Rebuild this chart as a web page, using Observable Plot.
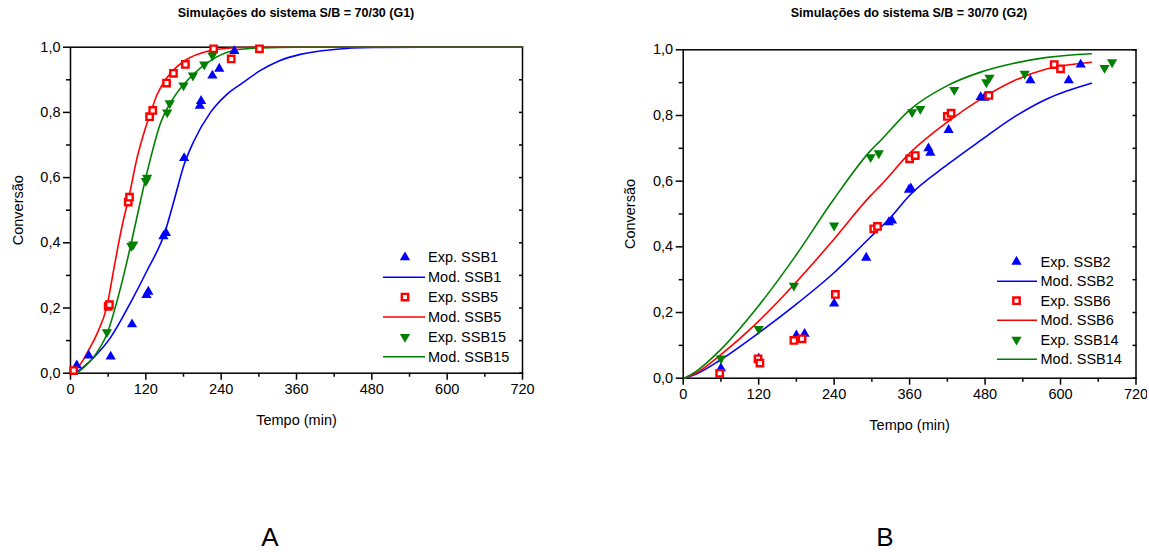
<!DOCTYPE html>
<html>
<head>
<meta charset="utf-8">
<script src="https://cdn.jsdelivr.net/npm/d3@7"></script>
<script src="https://cdn.jsdelivr.net/npm/@observablehq/plot@0.6"></script>
<style>
  body { margin: 0; background: #fff; }
  #page { position: relative; width: 1149px; height: 552px; overflow: hidden; background: #fff; }
  .panel { position: absolute; top: 0; }
  .panel svg { max-width: none !important; }
  #overlay { position: absolute; left: 0; top: 0; pointer-events: none; }
</style>
</head>
<body>
<div id="page">
  <div class="panel" id="g1" style="left:0px"></div>
  <div class="panel" id="g2" style="left:612px"></div>
  <svg id="overlay" width="1149" height="552"></svg>
</div>
<script>
// ---- axis ticks ----
const timeTicks = [0, 120, 240, 360, 480, 600, 720];
const timeMinor = [60, 180, 300, 420, 540, 660];
const convTicks = [0, 0.2, 0.4, 0.6, 0.8, 1.0];
const convMinor = [0.1, 0.3, 0.5, 0.7, 0.9];

// ---- G1: S/B = 70/30 — experimental points [tempo, conversão] ----
const expSSB1 = [[10,0.024],[29,0.054],[64,0.051],[98,0.15],[121,0.24],[124,0.25],[148,0.42],[152,0.43],
  [181,0.66],[206,0.82],[208,0.835],[226,0.913],[237,0.934],[261,0.988]];
const expSSB5 = [[5,0.008],[60,0.205],[62,0.21],[92,0.525],[94,0.54],[126,0.787],[131,0.806],[153,0.89],
  [164,0.92],[183,0.947],[228,0.995],[256,0.964],[301,0.995]];
const expSSB15 = [[58,0.126],[97,0.39],[100,0.395],[120,0.59],[122,0.60],[154,0.80],[158,0.828],[180,0.883],
  [195,0.913],[213,0.947],[226,0.975]];

// ---- G1: model curves ----
const modSSB1 = [[8,0],[30,0.035],[64,0.11],[98,0.225],[122,0.315],[150,0.43],[165,0.53],[181,0.64],[196,0.71],
  [223,0.80],[250,0.857],[276,0.893],[302,0.928],[332,0.958],[366,0.978],[420,0.993],[480,0.999],[560,1.0],[720,1.0]];
const modSSB5 = [[5,0],[20,0.04],[30,0.075],[42,0.12],[58,0.205],[70,0.33],[82,0.45],[93,0.54],[106,0.66],
  [119,0.75],[126,0.79],[138,0.855],[153,0.905],[164,0.93],[183,0.96],[223,0.99],[250,0.997],[300,1.0],[720,1.0]];
const modSSB15 = [[10,0],[37,0.05],[58,0.12],[80,0.264],[98,0.41],[114,0.55],[127,0.655],[143,0.765],[165,0.847],
  [191,0.908],[223,0.959],[260,0.99],[302,0.998],[360,1.0],[720,1.0]];

// ---- G2: S/B = 30/70 — experimental points ----
const expSSB2 = [[60,0.03],[120,0.06],[180,0.13],[193,0.135],[240,0.227],[291,0.367],[327,0.475],[332,0.48],
  [359,0.574],[362,0.578],[390,0.70],[393,0.686],[422,0.756],[473,0.856],[479,0.854],[552,0.907],[613,0.907],[632,0.955]];
const expSSB6 = [[58,0.015],[119,0.059],[122,0.046],[176,0.115],[189,0.12],[242,0.255],[303,0.455],[309,0.462],
  [360,0.668],[369,0.678],[420,0.797],[426,0.807],[486,0.861],[590,0.955],[600,0.942]];
const expSSB14 = [[60,0.06],[120,0.15],[176,0.282],[240,0.465],[298,0.673],[311,0.685],[364,0.81],[377,0.82],
  [431,0.878],[482,0.901],[487,0.915],[543,0.927],[670,0.945],[682,0.962]];

// ---- G2: model curves ----
const modSSB2 = [[2,0],[20,0.012],[58,0.054],[118,0.135],[177,0.221],[238,0.318],[298,0.43],[330,0.49],[359,0.555],
  [420,0.65],[473,0.724],[526,0.795],[579,0.851],[649,0.898]];
const modSSB6 = [[2,0],[20,0.015],[58,0.069],[118,0.17],[177,0.287],[238,0.419],[298,0.556],[314,0.587],[359,0.683],
  [420,0.78],[473,0.85],[526,0.906],[579,0.942],[649,0.962]];
const modSSB14 = [[2,0],[20,0.02],[58,0.084],[118,0.216],[177,0.368],[238,0.541],[298,0.693],[314,0.724],[359,0.815],
  [420,0.891],[473,0.932],[526,0.959],[579,0.977],[649,0.988]];

// ---- colours ----
const BLUE = "#0000ff", RED = "#ff0000", GREEN = "#008000";

// downward triangle for Plot.dot / d3.symbol
const triangleDown = {
  draw(context, size) {
    const s3 = Math.sqrt(3);
    const y = -Math.sqrt(size / (s3 * 3));
    context.moveTo(0, -y * 2);
    context.lineTo(-s3 * y, y);
    context.lineTo(s3 * y, y);
    context.closePath();
  }
};

const styles = {
  tri: {symbol: "triangle", r: 3.8, fill: BLUE, stroke: "none"},
  sq: {symbol: "square", r: 3.6, fill: "#fff", stroke: RED, strokeWidth: 2.4},
  down: {symbol: triangleDown, r: 3.8, fill: GREEN, stroke: "none"}
};

const rows = (pairs) => pairs.map(([t, c]) => ({t, c}));
const comma = (d) => d.toFixed(1).replace(".", ",");
const FONT = "'Liberation Sans', Arial, Helvetica, sans-serif";

function panel(series, m) {
  const marks = [
    Plot.axisX(timeMinor, {tickSize: 4, tickFormat: () => "", label: null, strokeWidth: 1.5}),
    Plot.axisX(timeTicks, {tickSize: 7, tickPadding: 4, label: "Tempo (min)", labelArrow: "none",
      labelAnchor: "center", labelOffset: 52, strokeWidth: 1.5}),
    Plot.axisY(convMinor, {tickSize: 4, tickFormat: () => "", label: null, strokeWidth: 1.5}),
    Plot.axisY(convTicks, {tickSize: 7, tickPadding: 3, tickFormat: comma, label: "Conversão", labelArrow: "none",
      labelAnchor: "center", labelOffset: 58, strokeWidth: 1.5}),
    Plot.axisY([...convTicks, ...convMinor], {anchor: "right", tickSize: -4, tickFormat: () => "", label: null, strokeWidth: 1.5}),
    Plot.frame({stroke: "#000", strokeWidth: 1.5})
  ];
  for (const s of series) {
    marks.push(Plot.line(rows(s.mod), {x: "t", y: "c", stroke: s.color, strokeWidth: 1.6, curve: "monotone-x"}));
  }
  for (const s of series) {
    marks.push(Plot.dot(rows(s.exp), {x: "t", y: "c", ...styles[s.shape]}));
  }
  return Plot.plot({
    width: m.width, height: 450,
    marginLeft: m.left, marginRight: m.right, marginTop: m.top, marginBottom: m.bottom,
    x: {domain: [0, 720]},
    y: {domain: [0, 1]},
    style: {fontFamily: FONT, fontSize: "14.5px", color: "#000", background: "transparent"},
    marks
  });
}

const seriesG1 = [
  {exp: expSSB1, mod: modSSB1, color: BLUE, shape: "tri", name: "SSB1"},
  {exp: expSSB5, mod: modSSB5, color: RED, shape: "sq", name: "SSB5"},
  {exp: expSSB15, mod: modSSB15, color: GREEN, shape: "down", name: "SSB15"}
];
const seriesG2 = [
  {exp: expSSB2, mod: modSSB2, color: BLUE, shape: "tri", name: "SSB2"},
  {exp: expSSB6, mod: modSSB6, color: RED, shape: "sq", name: "SSB6"},
  {exp: expSSB14, mod: modSSB14, color: GREEN, shape: "down", name: "SSB14"}
];

document.getElementById("g1").append(panel(seriesG1, {width: 560, left: 70, right: 38, top: 46.7, bottom: 77.3}));
document.getElementById("g2").append(panel(seriesG2, {width: 535, left: 70.7, right: 11.5, top: 49.3, bottom: 72.3}));

// ---- titles, legends and panel tags ----
const svg = d3.select("#overlay");

const titles = [
  {text: "Simulações do sistema S/B = 70/30 (G1)", x: 296},
  {text: "Simulações do sistema S/B = 30/70 (G2)", x: 909}
];
svg.selectAll("text.title").data(titles).join("text")
  .attr("class", "title")
  .attr("x", d => d.x).attr("y", 17)
  .attr("text-anchor", "middle")
  .style("font-family", "'Liberation Sans Narrow', 'Arial Narrow', 'Liberation Sans', sans-serif")
  .style("font-weight", "bold").style("font-size", "12.5px")
  .text(d => d.text);

const tags = [{text: "A", x: 270}, {text: "B", x: 885}];
svg.selectAll("text.tag").data(tags).join("text")
  .attr("class", "tag")
  .attr("x", d => d.x).attr("y", 546)
  .attr("text-anchor", "middle")
  .style("font-family", FONT).style("font-size", "26px")
  .text(d => d.text);

function legend(series, o) {
  const g = svg.append("g");
  const entries = [];
  for (const s of series) {
    entries.push({kind: "exp", s, label: `Exp. ${s.name}`});
    entries.push({kind: "mod", s, label: `Mod. ${s.name}`});
  }
  entries.forEach((e, i) => {
    const y = o.y0 + i * o.dy;
    if (e.kind === "exp") {
      const st = styles[e.s.shape];
      const sym = typeof st.symbol === "string"
        ? (st.symbol === "triangle" ? d3.symbolTriangle : d3.symbolSquare) : st.symbol;
      g.append("path")
        .attr("transform", `translate(${o.mx},${y})`)
        .attr("d", d3.symbol(sym, st.r * st.r * Math.PI)())
        .attr("fill", st.fill).attr("stroke", st.stroke)
        .attr("stroke-width", st.strokeWidth || null);
    } else {
      g.append("line")
        .attr("x1", o.lx1).attr("x2", o.lx2).attr("y1", y).attr("y2", y)
        .attr("stroke", e.s.color).attr("stroke-width", 1.6);
    }
    g.append("text")
      .attr("x", o.tx).attr("y", y).attr("dy", "0.35em")
      .style("font-family", FONT).style("font-size", "14.5px")
      .text(e.label);
  });
}
legend(seriesG1, {y0: 257.3, dy: 19.9, mx: 405, lx1: 383, lx2: 425, tx: 428});
legend(seriesG2, {y0: 261.7, dy: 19.5, mx: 1016.5, lx1: 997, lx2: 1037, tx: 1040.5});
</script>
</body>
</html>
